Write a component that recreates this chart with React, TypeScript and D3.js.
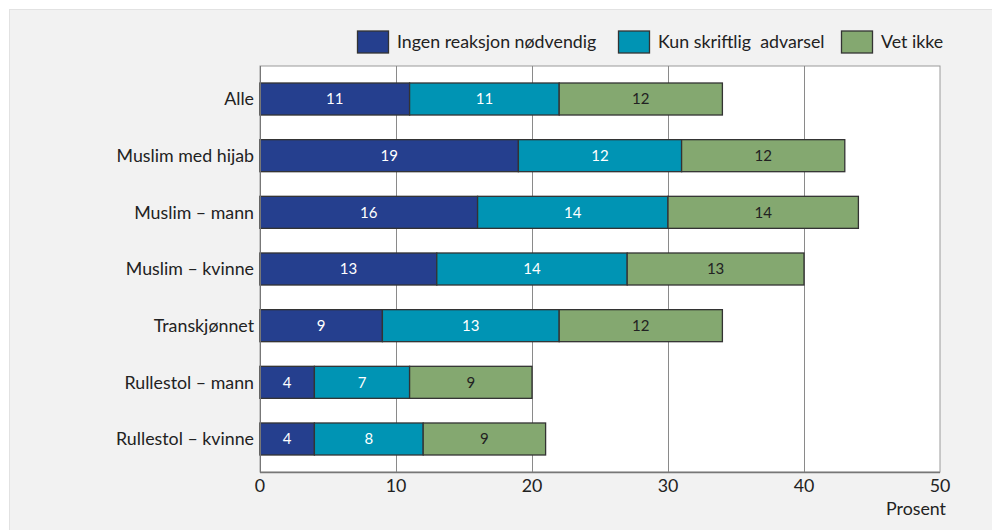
import React, { useEffect, useRef } from 'react';
import * as d3 from 'd3';

const categories = [
  'Alle',
  'Muslim med hijab',
  'Muslim – mann',
  'Muslim – kvinne',
  'Transkjønnet',
  'Rullestol – mann',
  'Rullestol – kvinne',
];
const seriesNames = ['Ingen reaksjon nødvendig', 'Kun skriftlig  advarsel', 'Vet ikke'];
const ingenReaksjon = [11, 19, 16, 13, 9, 4, 4];
const kunSkriftlig = [11, 12, 14, 14, 13, 7, 8];
const vetIkke = [12, 12, 14, 13, 12, 9, 9];
const xTicks = [0, 10, 20, 30, 40, 50];

const colors = ['#253f8e', '#0094b4', '#84a870'];
const labelColors = ['#ffffff', '#ffffff', '#222222'];
const FONT = 'Lato, sans-serif';
const FS = 17.8;

const App: React.FC = () => {
  const ref = useRef<SVGSVGElement>(null);

  useEffect(() => {
    if (!ref.current) return;
    const svg = d3.select(ref.current);
    svg.selectAll('*').remove();

    const width = 992;
    const height = 530;
    const left = 260;
    const right = 940;
    const top = 66;
    const bottom = 472;

    // grey panel behind everything
    svg.append('rect').attr('width', width).attr('height', height).attr('fill', '#ffffff');
    svg.append('rect')
      .attr('x', 9.5).attr('y', 9.5)
      .attr('width', width).attr('height', height)
      .attr('fill', '#f2f2f2')
      .attr('stroke', '#e2e2e2');

    const x = d3.scaleLinear().domain([0, 50]).range([left, right]);
    const y = d3.scaleBand<string>()
      .domain(categories)
      .range([top, bottom])
      .paddingInner(0.435)
      .paddingOuter(0.3);

    // plot area
    svg.append('rect')
      .attr('x', left).attr('y', top)
      .attr('width', right - left).attr('height', bottom - top)
      .attr('fill', '#ffffff')
      .attr('stroke', '#9a9a9a');

    // grid lines
    svg.append('g')
      .selectAll('line')
      .data(xTicks.slice(1, -1))
      .join('line')
      .attr('x1', d => x(d) + 0.5).attr('x2', d => x(d) + 0.5)
      .attr('y1', top).attr('y2', bottom)
      .attr('stroke', '#8a8a8a');

    // stacked bars
    const rows = categories.map((c, i) => ({
      cat: c,
      vals: [ingenReaksjon[i], kunSkriftlig[i], vetIkke[i]],
    }));
    const segs: { cat: string; s: number; x0: number; x1: number; v: number }[] = [];
    rows.forEach(r => {
      let acc = 0;
      r.vals.forEach((v, s) => {
        segs.push({ cat: r.cat, s, x0: acc, x1: acc + v, v });
        acc += v;
      });
    });

    const bars = svg.append('g');
    bars.selectAll('rect')
      .data(segs)
      .join('rect')
      .attr('x', d => x(d.x0))
      .attr('y', d => y(d.cat)!)
      .attr('width', d => x(d.x1) - x(d.x0))
      .attr('height', y.bandwidth())
      .attr('fill', d => colors[d.s])
      .attr('stroke', '#333333')
      .attr('stroke-width', 1.3);

    bars.selectAll('text')
      .data(segs)
      .join('text')
      .attr('x', d => (x(d.x0) + x(d.x1)) / 2)
      .attr('y', d => y(d.cat)! + y.bandwidth() / 2)
      .attr('dy', '0.35em')
      .attr('text-anchor', 'middle')
      .attr('font-family', FONT)
      .attr('font-size', 15)
      .attr('fill', d => labelColors[d.s])
      .text(d => d.v);

    // bottom axis line
    svg.append('line')
      .attr('x1', left).attr('x2', right)
      .attr('y1', bottom + 0.5).attr('y2', bottom + 0.5)
      .attr('stroke', '#777777').attr('stroke-width', 1.5);
    svg.append('line')
      .attr('x1', left + 0.5).attr('x2', left + 0.5)
      .attr('y1', top).attr('y2', bottom)
      .attr('stroke', '#777777');

    // category labels
    svg.append('g')
      .selectAll('text')
      .data(categories)
      .join('text')
      .attr('x', left - 6)
      .attr('y', d => y(d)! + y.bandwidth() / 2)
      .attr('dy', '0.35em')
      .attr('text-anchor', 'end')
      .attr('font-family', FONT)
      .attr('font-size', FS)
      .attr('fill', '#222')
      .text(d => d);

    // x tick labels
    svg.append('g')
      .selectAll('text')
      .data(xTicks)
      .join('text')
      .attr('x', d => x(d))
      .attr('y', 486)
      .attr('dy', '0.35em')
      .attr('text-anchor', 'middle')
      .attr('font-family', FONT)
      .attr('font-size', FS)
      .attr('fill', '#222')
      .text(d => d);

    svg.append('text')
      .attr('x', 946).attr('y', 509)
      .attr('dy', '0.35em')
      .attr('text-anchor', 'end')
      .attr('font-family', FONT)
      .attr('font-size', FS)
      .attr('fill', '#222')
      .text('Prosent');

    // legend
    const legendX = [357, 618, 841];
    const lg = svg.append('g');
    seriesNames.forEach((name, i) => {
      lg.append('rect')
        .attr('x', legendX[i] + 0.5).attr('y', 31)
        .attr('width', 31).attr('height', 22)
        .attr('fill', colors[i])
        .attr('stroke', '#333333')
        .attr('stroke-width', 1.3);
      lg.append('text')
        .attr('x', legendX[i] + 40)
        .attr('y', 42)
        .attr('dy', '0.35em')
        .attr('font-family', FONT)
        .attr('font-size', FS)
        .attr('fill', '#222')
        .style('white-space', 'pre')
        .text(name);
    });
  }, []);

  return (
    <svg
      ref={ref}
      width={992}
      height={530}
      style={{ position: 'absolute', left: 0, top: 0 }}
    />
  );
};

export default App;
